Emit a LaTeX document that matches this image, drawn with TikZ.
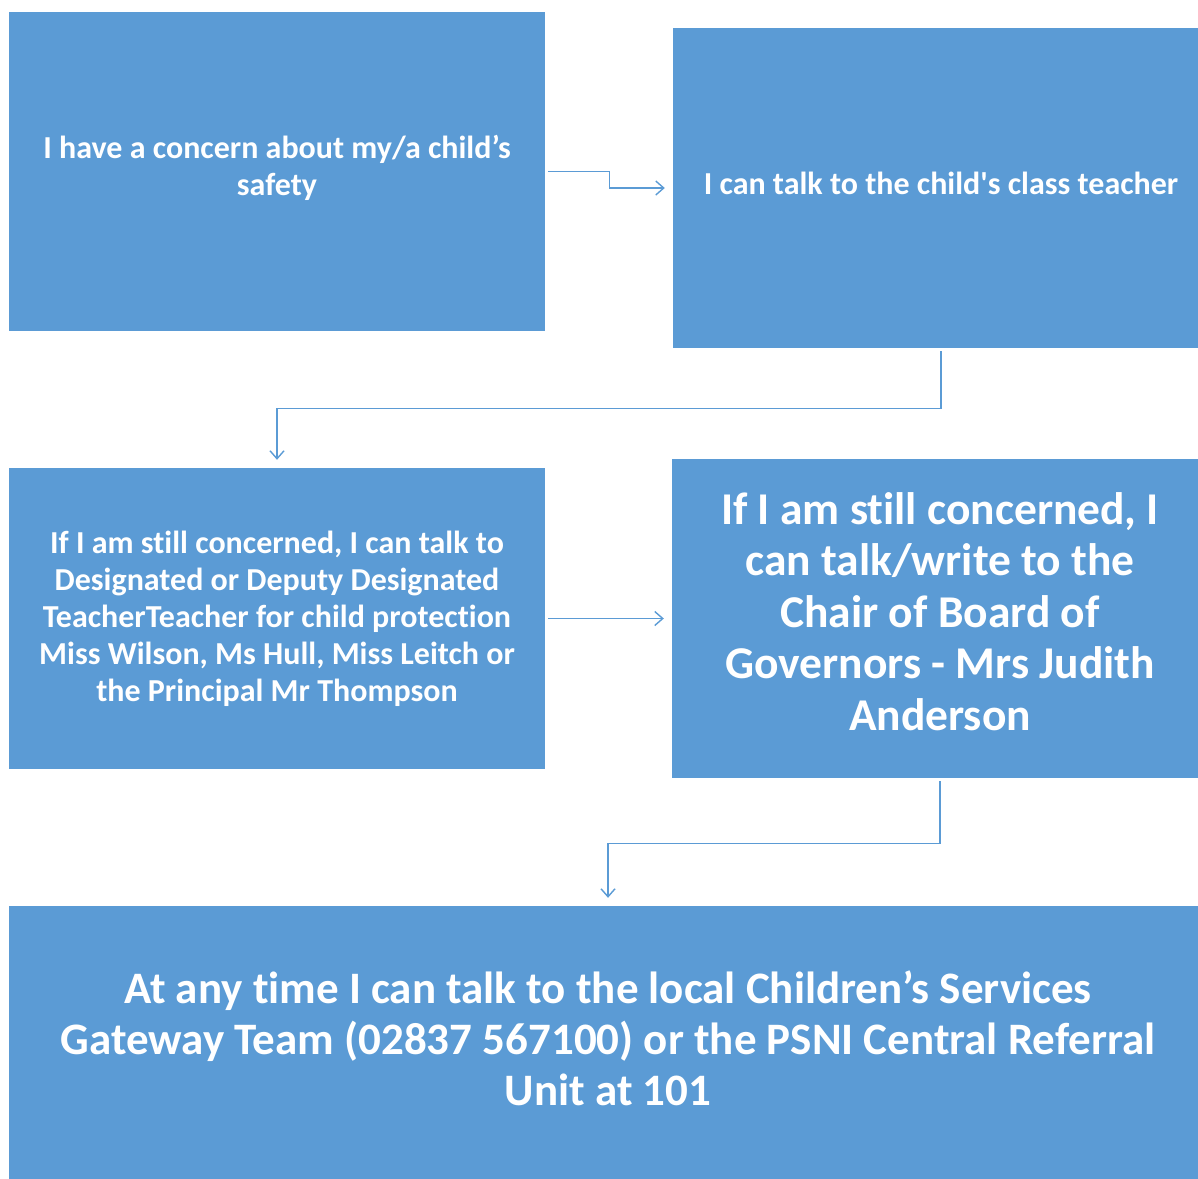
\documentclass[tikz,border=0pt]{standalone}
\usepackage{fontspec}
\newfontfamily\boxfont{Carlito}[Ligatures=NoCommon]
\usetikzlibrary{arrows.meta}
\definecolor{boxblue}{HTML}{5B9BD5}

\begin{document}
\begin{tikzpicture}[x=1pt, y=-1pt,
	stepbox/.style={fill=boxblue, text=white, font=\boxfont\bfseries\fontsize{32}{37}\selectfont,
		align=center, inner sep=0pt, minimum width=536pt},
	bigbox/.style={stepbox, font=\boxfont\bfseries\fontsize{45.5}{51.5}\selectfont},
	conn/.style={draw=boxblue, line width=1.4pt, -{Straight Barb[length=8pt,width=14pt]},
		shorten <=3pt, shorten >=8pt}]
\useasboundingbox (0,0) rectangle (1198,1178);
\clip (0,0) rectangle (1198,1178);

\node [stepbox, minimum height=319pt, text depth=12pt] (concern) at (277,171.5)
	{I have a concern about my/a child’s\\safety};
\node [stepbox, minimum height=320pt, text depth=10pt] (teacher) at (941,188)
	{I can talk to the child's class teacher};
\node [stepbox, minimum height=301pt] (designated) at (277,618.5)
	{If I am still concerned, I can talk to\\Designated or Deputy Designated\\
	TeacherTeacher for child protection\\Miss Wilson, Ms Hull, Miss Leitch or\\
	the Principal Mr Thompson};
\node [bigbox, minimum height=319pt, text depth=14pt] (chair) at (940,618.5)
	{If I am still concerned, I\\can talk/write to the\\Chair of Board of\\
	Governors - Mrs Judith\\Anderson};
\node [bigbox, font=\boxfont\bfseries\fontsize{45}{51}\selectfont, minimum width=1199pt,
	minimum height=280pt, text depth=16pt] (gateway) at (608,1046)
	{At any time I can talk to the local Children’s Services\\
	Gateway Team (02837 567100) or the PSNI Central Referral\\Unit at 101};

\draw [conn] (concern.east) -- ++(64,0) |- (teacher.west);
\draw [conn] (teacher.south) -- ++(0,60) -| (designated.north);
\draw [conn] (designated.east) -- (chair.west);
\draw [conn] (chair.south) -- ++(0,65) -| (gateway.north);
\end{tikzpicture}
\end{document}
